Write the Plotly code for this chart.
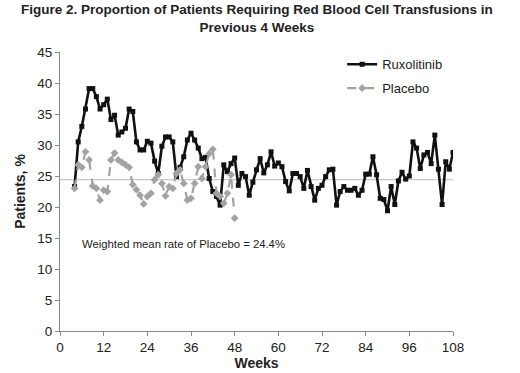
import plotly.graph_objects as go

rux_weeks = list(range(4, 109))
rux_values = [
    23.3, 30.5, 33.0, 35.8, 39.1, 39.1, 37.8, 35.8, 36.5, 37.4,   # 4-13
    34.1, 34.8, 31.6, 32.1, 32.7, 35.8, 35.4, 30.5, 29.2, 29.2,   # 14-23
    30.6, 30.3, 27.4, 25.4, 29.8, 31.3, 31.3, 30.5, 24.9, 26.4,   # 24-33
    28.1, 30.8, 31.9, 30.8, 29.5, 27.8, 28.0, 24.6, 22.5, 21.7,   # 34-43
    20.3, 26.8, 25.7, 27.0, 27.9, 23.5, 25.4, 24.9, 21.9, 24.0,   # 44-53
    26.0, 27.8, 25.5, 26.8, 28.9, 26.6, 27.1, 26.5, 24.1, 22.6,   # 54-63
    25.4, 25.4, 24.9, 23.0, 25.9, 23.3, 21.1, 23.0, 23.5, 24.9,   # 64-73
    26.0, 26.1, 20.3, 22.5, 23.3, 22.7, 22.7, 23.0, 21.9, 22.7,   # 74-83
    25.3, 25.3, 28.1, 25.2, 21.4, 21.2, 19.4, 23.3, 20.4, 24.2,   # 84-93
    25.6, 24.5, 25.0, 30.5, 29.5, 26.2, 28.4, 28.8, 27.0, 31.6,   # 94-103
    26.1, 20.4, 27.3, 26.1, 28.8,                                 # 104-108
]

placebo_weeks = list(range(4, 49))
placebo_values = [
    23.0, 26.8, 26.4, 28.9, 27.6, 23.4, 23.0, 21.1, 22.7, 22.5,   # 4-13
    27.6, 28.7, 27.6, 27.2, 26.8, 26.4, 23.6, 22.8, 21.9, 20.5,   # 14-23
    21.7, 22.2, 24.4, 25.2, 23.8, 21.8, 23.3, 23.0, 25.4, 26.0,   # 24-33
    23.8, 21.1, 21.4, 23.8, 26.5, 24.6, 26.5, 28.6, 29.3, 22.2,   # 34-43
    21.7, 20.6, 22.2, 25.2, 18.2,                                 # 44-48
]

mean_weeks = [0, 108]
placebo_mean = 24.4

x_ticks = list(range(0, 109, 12))
y_ticks = list(range(0, 46, 5))

FONT = "Liberation Sans, Arial, sans-serif"

fig = go.Figure()

fig.add_trace(go.Scatter(
    x=mean_weeks, y=[placebo_mean] * len(mean_weeks),
    mode="lines", line=dict(color="#c8c8c8", width=1.2),
    showlegend=False, hoverinfo="skip",
))

fig.add_trace(go.Scatter(
    x=rux_weeks, y=rux_values, name="Ruxolitinib",
    mode="lines+markers",
    line=dict(color="#111111", width=2.6),
    marker=dict(symbol="square", size=5, color="#111111"),
    legendgroup="a",
))

fig.add_trace(go.Scatter(
    x=placebo_weeks, y=placebo_values, name="Placebo",
    mode="lines+markers",
    line=dict(color="#a3a3a3", width=2.2, dash="dash"),
    marker=dict(symbol="diamond", size=6, color="#a3a3a3"),
    legendgroup="b",
))

fig.add_annotation(
    x=5.6, y=14.0, xref="x", yref="y", xanchor="left", yanchor="middle",
    text="Weighted mean rate of Placebo = 24.4%", showarrow=False,
    font=dict(family=FONT, size=11.3, color="#222222"),
)

fig.add_annotation(
    x=0.5, y=1.055, xref="paper", yref="paper", xanchor="center", yanchor="bottom",
    text="<b>Figure 2. Proportion of Patients Requiring Red Blood Cell Transfusions in<br>Previous 4 Weeks</b>",
    showarrow=False, align="center",
    font=dict(family=FONT, size=13.5, color="#222222"),
)

fig.update_layout(
    width=520, height=373,
    paper_bgcolor="white", plot_bgcolor="white",
    margin=dict(l=60, r=67, t=52, b=42, autoexpand=False),
    font=dict(family=FONT, color="#222222"),
    legend=dict(
        xref="container", yref="container",
        x=0.658, y=0.868, xanchor="left", yanchor="top",
        font=dict(family=FONT, size=13, color="#222222"),
        bgcolor="rgba(0,0,0,0)", tracegroupgap=4,
        itemwidth=30,
    ),
    xaxis=dict(
        range=[0, 108], tickvals=x_ticks, ticktext=[str(v) for v in x_ticks],
        showline=True, linecolor="#888888", linewidth=1,
        ticks="outside", ticklen=4, tickcolor="#888888",
        showgrid=False, zeroline=False, automargin=False,
        tickfont=dict(family=FONT, size=13.5, color="#222222"),
        title=dict(text="<b>Weeks</b>", font=dict(family=FONT, size=14, color="#222222"), standoff=2),
    ),
    yaxis=dict(
        range=[0, 45], tickvals=y_ticks,
        showline=True, linecolor="#888888", linewidth=1,
        ticks="outside", ticklen=4, tickcolor="#888888",
        showgrid=False, zeroline=False, automargin=False,
        tickfont=dict(family=FONT, size=13.5, color="#222222"),
        title=dict(text="<b>Patients, %</b>", font=dict(family=FONT, size=14, color="#222222"), standoff=8),
    ),
)

fig.write_html("out.html", config={"displayModeBar": False},
               post_script="document.body.style.margin='0';")
